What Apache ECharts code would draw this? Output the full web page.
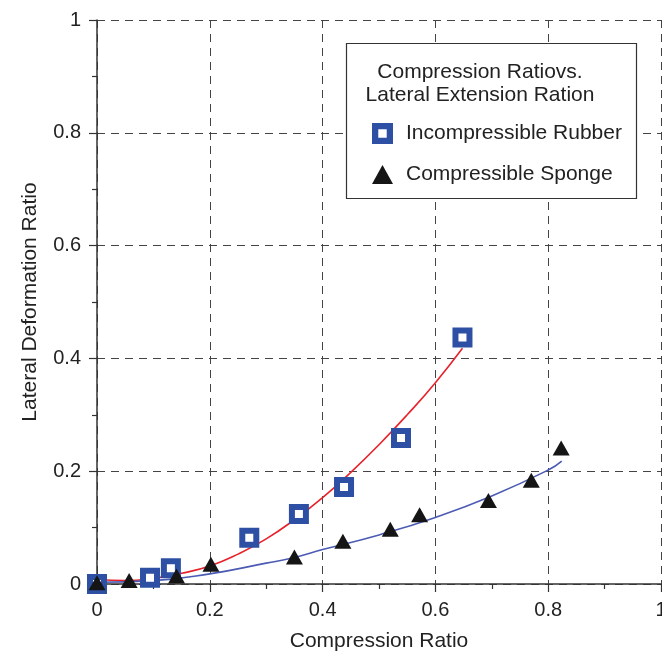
<!DOCTYPE html>
<html>
<head>
<meta charset="utf-8">
<script src="https://cdn.jsdelivr.net/npm/echarts@6/dist/echarts.min.js"></script>
<style>
  html, body { margin: 0; padding: 0; background: #fff; }
  #chart { width: 662px; height: 654px; }
</style>
</head>
<body>
<div id="chart"></div>
<script>
// measured points
var rubberX = [0, 0.094, 0.131, 0.270, 0.358, 0.438, 0.539, 0.648];
var rubberY = [0, 0.011, 0.028, 0.082, 0.124, 0.172, 0.259, 0.437];
var spongeX = [0, 0.057, 0.141, 0.202, 0.350, 0.436, 0.520, 0.572, 0.694, 0.770, 0.823];
var spongeY = [0.002, 0.006, 0.014, 0.035, 0.048, 0.076, 0.097, 0.123, 0.148, 0.184, 0.241];

// fitted curves
var rubberFitX = [0, 0.05, 0.1, 0.15, 0.2, 0.25, 0.3, 0.35, 0.4, 0.45, 0.5, 0.55, 0.6, 0.648];
var rubberFitY = [0.008, 0.006, 0.010, 0.019, 0.032, 0.053, 0.080, 0.114, 0.153, 0.198, 0.247, 0.300, 0.357, 0.418];
var spongeFitX = [0, 0.1, 0.2, 0.3, 0.35, 0.4, 0.5, 0.6, 0.7, 0.8, 0.824];
var spongeFitY = [0.003, 0.006, 0.018, 0.037, 0.047, 0.061, 0.087, 0.118, 0.156, 0.202, 0.218];

var xTicks = [0, 0.2, 0.4, 0.6, 0.8, 1];
var yTicks = [0, 0.2, 0.4, 0.6, 0.8, 1];

function zip(xs, ys) {
  return xs.map(function (x, i) { return [x, ys[i]]; });
}
function fmt(v) {
  return String(Math.round(v * 10) / 10);
}

var font = 'Liberation Sans, Arial, sans-serif';
var chart = echarts.init(document.getElementById('chart'));

var axisBase = {
  type: 'value',
  min: xTicks[0],
  max: xTicks[xTicks.length - 1],
  interval: 0.2,
  axisLine: { onZero: false, lineStyle: { color: '#333', width: 1.5 } },
  axisTick: { show: true, inside: false, length: 8, lineStyle: { color: '#333', width: 1.2 } },
  minorTick: { show: true, splitNumber: 2, length: 5, lineStyle: { color: '#333', width: 1.2 } },
  splitLine: { show: true, lineStyle: { color: '#444', type: [8, 6], width: 1 } },
  axisLabel: { color: '#222', fontSize: 20, fontFamily: font, formatter: fmt, margin: 16 },
  nameLocation: 'middle',
  nameTextStyle: { color: '#222', fontSize: 21, fontFamily: font }
};

chart.setOption({
  animation: false,
  grid: { left: 97, top: 20, right: 1, bottom: 70, outerBoundsMode: 'none', containLabel: false },
  xAxis: Object.assign({}, axisBase, {
    name: 'Compression Ratio',
    nameGap: 47
  }),
  yAxis: Object.assign({}, axisBase, {
    min: yTicks[0],
    max: yTicks[yTicks.length - 1],
    name: 'Lateral Deformation Ratio',
    nameGap: 56
  }),
  graphic: [
    {
      type: 'rect', z: 3,
      shape: { x: 346.5, y: 43.5, width: 290, height: 155 },
      style: { fill: '#fff', stroke: '#333', lineWidth: 1.2 }
    },
    {
      type: 'text', z: 4, x: 480, y: 61,
      style: {
        text: 'Compression Ratiovs.\nLateral Extension Ration',
        align: 'center',
        font: '21px ' + font, fill: '#222', lineHeight: 23
      }
    }
  ],
  legend: {
    orient: 'vertical',
    left: 367, top: 118,
    itemGap: 20,
    itemWidth: 21, itemHeight: 19,
    textStyle: { color: '#222', fontSize: 21, fontFamily: font, padding: [0, 0, 0, 8] },
    data: [
      { name: 'Incompressible Rubber',
        icon: 'path://M0,0H20V20H0Z M4.5,4.5V15.5H15.5V4.5Z',
        itemStyle: { color: '#2e50a4', opacity: 1 } },
      { name: 'Compressible Sponge', icon: 'triangle',
        itemStyle: { color: '#151515', opacity: 1 } }
    ]
  },
  series: [
    {
      name: 'rubber fit', type: 'line', data: zip(rubberFitX, rubberFitY),
      smooth: 0.5, showSymbol: false, symbol: 'none', z: 2,
      lineStyle: { color: '#e8222b', width: 1.6 }
    },
    {
      name: 'sponge fit', type: 'line', data: zip(spongeFitX, spongeFitY),
      smooth: 0.5, showSymbol: false, symbol: 'none', z: 2,
      lineStyle: { color: '#4b5bb3', width: 1.6 }
    },
    {
      name: 'Incompressible Rubber', type: 'scatter', data: zip(rubberX, rubberY),
      symbol: 'rect', symbolSize: 14, clip: false, z: 3,
      itemStyle: { color: '#fff', borderColor: '#2e50a4', borderWidth: 6, opacity: 1 }
    },
    {
      name: 'Compressible Sponge', type: 'scatter', data: zip(spongeX, spongeY),
      symbol: 'triangle', symbolSize: [17, 15], clip: false, z: 3,
      itemStyle: { color: '#151515', opacity: 1 }
    }
  ]
});
</script>
</body>
</html>
